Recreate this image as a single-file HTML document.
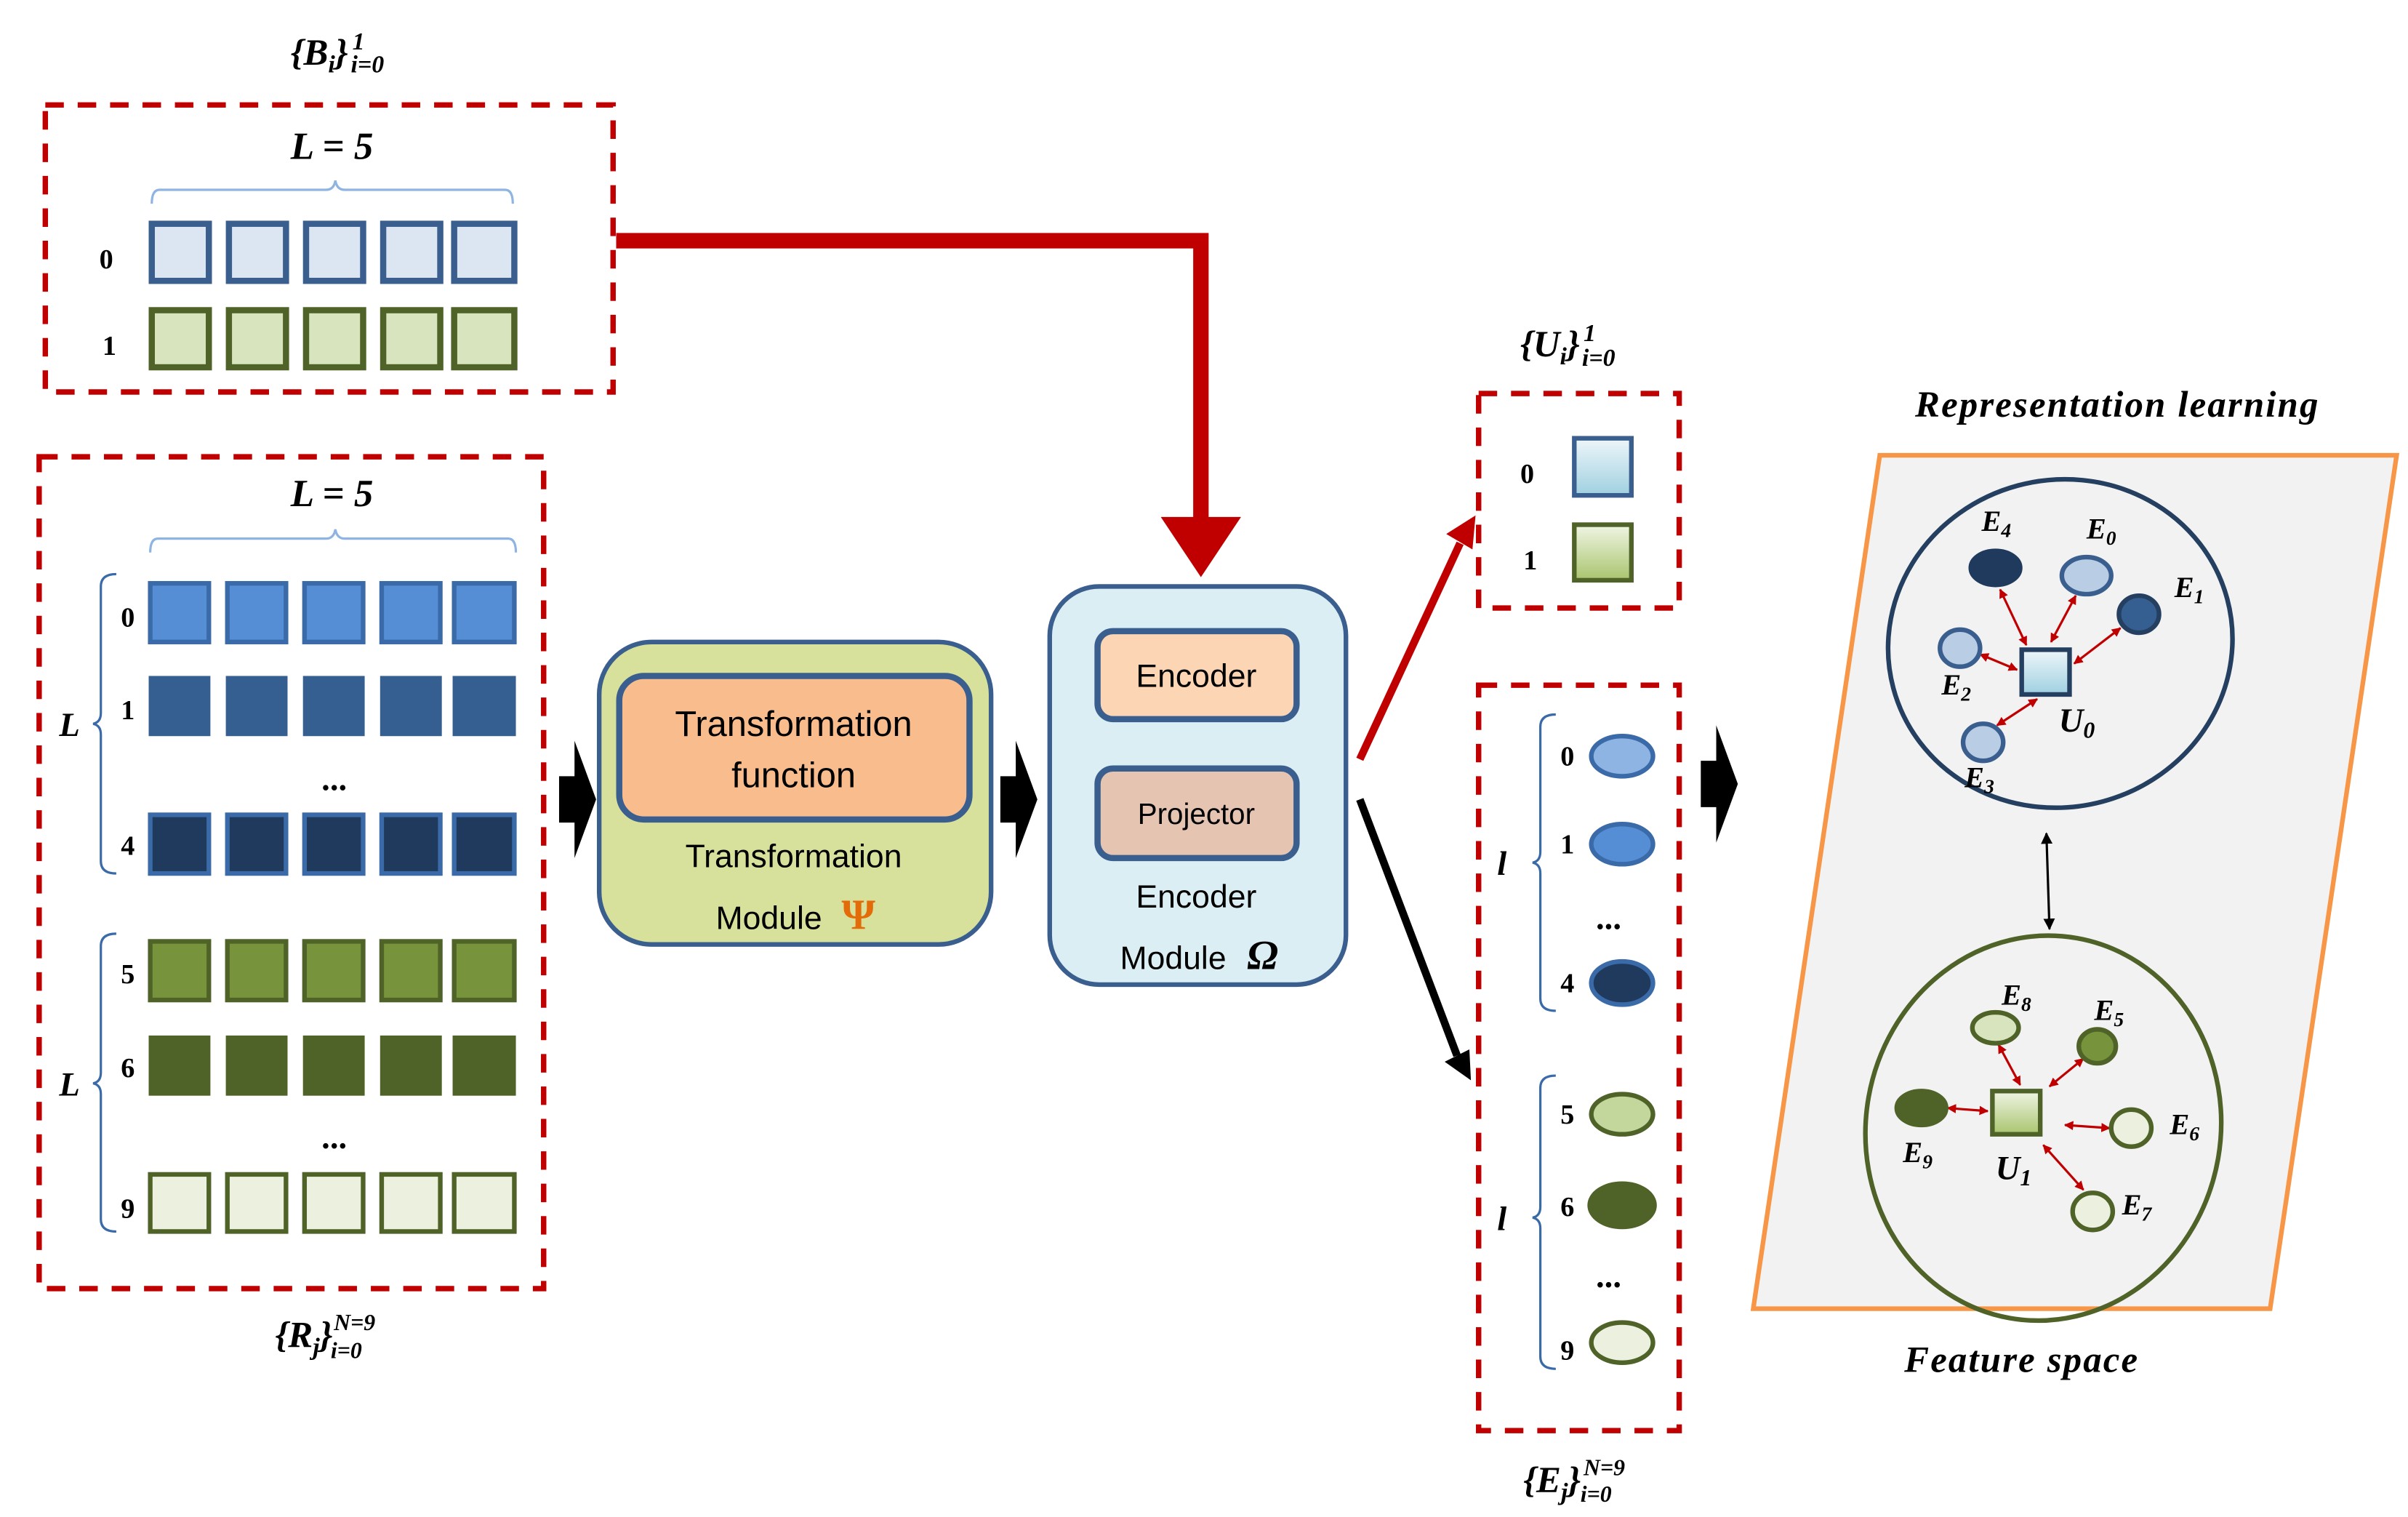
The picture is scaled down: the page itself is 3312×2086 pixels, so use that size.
<!DOCTYPE html>
<html><head><meta charset="utf-8"><style>
html,body{margin:0;padding:0;background:#fff;}
svg{display:block;}
.m{font-family:"Liberation Serif",serif;font-style:italic;font-weight:bold;fill:#000;}
.n{font-family:"Liberation Serif",serif;font-weight:bold;fill:#000;}
.s{font-family:"Liberation Sans",sans-serif;fill:#000;}
</style></head><body>
<svg width="3312" height="2086" viewBox="0 0 1560 983" xmlns="http://www.w3.org/2000/svg">
<defs>
<marker id="ra" viewBox="0 0 10 10" refX="9" refY="5" markerWidth="4" markerHeight="4" orient="auto-start-reverse"><path d="M0,0L10,5L0,10z" fill="#c00000"/></marker>
<marker id="ka" viewBox="0 0 10 10" refX="9" refY="5" markerWidth="5" markerHeight="5" orient="auto-start-reverse"><path d="M0,0L10,5L0,10z" fill="#000"/></marker>
<linearGradient id="gb" x1="0" y1="0" x2="0" y2="1"><stop offset="0" stop-color="#eef6fa"/><stop offset="1" stop-color="#9fd0e0"/></linearGradient>
<linearGradient id="gg" x1="0" y1="0" x2="0" y2="1"><stop offset="0" stop-color="#f0f5e4"/><stop offset="1" stop-color="#a9c46e"/></linearGradient>
</defs>

<text x="188" y="42" class="m" font-size="24">{B<tspan font-size="16" dy="5">i</tspan><tspan dy="-5">}</tspan></text>
<text x="228" y="32" class="m" font-size="16">1</text>
<text x="227" y="47" class="m" font-size="16">i=0</text>

<rect x="29" y="68" width="368" height="186" fill="none" stroke="#c00000" stroke-width="3.5" stroke-dasharray="12,9"/>
<text x="188" y="103" class="m" font-size="25">L = 5</text>
<path d="M98,132 q0,-9 5,-9 H211 q5,0 6,-6 q1,6 6,6 H327 q5,0 5,9" fill="none" stroke="#8eb4e3" stroke-width="1.5"/>
<g stroke="#3a5f8f" stroke-width="4" fill="#dce6f2">
<rect x="98" y="145" width="37" height="37"/><rect x="148" y="145" width="37" height="37"/><rect x="198" y="145" width="37" height="37"/><rect x="248" y="145" width="37" height="37"/><rect x="294" y="145" width="39" height="37"/>
</g>
<g stroke="#4f6228" stroke-width="4" fill="#d7e4bd">
<rect x="98" y="201" width="37" height="37"/><rect x="148" y="201" width="37" height="37"/><rect x="198" y="201" width="37" height="37"/><rect x="248" y="201" width="37" height="37"/><rect x="294" y="201" width="39" height="37"/>
</g>
<text x="64" y="174" class="n" font-size="18">0</text>
<text x="66" y="230" class="n" font-size="18">1</text>

<path d="M399,156 H778 V338" fill="none" stroke="#c00000" stroke-width="10"/>
<path d="M752,335 H804 L778,374 Z" fill="#c00000"/>

<rect x="25" y="296" width="327" height="539" fill="none" stroke="#c00000" stroke-width="3.5" stroke-dasharray="12,9"/>
<text x="188" y="328" class="m" font-size="25">L = 5</text>
<path d="M97,358 q0,-9 5,-9 H211 q5,0 6,-6 q1,6 6,6 H329 q5,0 5,9" fill="none" stroke="#8eb4e3" stroke-width="1.5"/>
<g stroke="#3a6aa8" stroke-width="3" fill="#558ed5">
<rect x="97" y="378" width="38" height="38"/><rect x="147" y="378" width="38" height="38"/><rect x="197" y="378" width="38" height="38"/><rect x="247" y="378" width="38" height="38"/><rect x="294" y="378" width="39" height="38"/>
</g>
<g fill="#365f91">
<rect x="96" y="438" width="40" height="39"/><rect x="146" y="438" width="40" height="39"/><rect x="196" y="438" width="40" height="39"/><rect x="246" y="438" width="40" height="39"/><rect x="293" y="438" width="41" height="39"/>
</g>
<text x="208" y="512" class="n" font-size="22">...</text>
<g stroke="#3a6aa8" stroke-width="3" fill="#1f3a5c">
<rect x="97" y="528" width="38" height="38"/><rect x="147" y="528" width="38" height="38"/><rect x="197" y="528" width="38" height="38"/><rect x="247" y="528" width="38" height="38"/><rect x="294" y="528" width="39" height="38"/>
</g>
<g stroke="#4f6228" stroke-width="3" fill="#77933c">
<rect x="97" y="610" width="38" height="38"/><rect x="147" y="610" width="38" height="38"/><rect x="197" y="610" width="38" height="38"/><rect x="247" y="610" width="38" height="38"/><rect x="294" y="610" width="39" height="38"/>
</g>
<g fill="#4f6228">
<rect x="96" y="671" width="40" height="39"/><rect x="146" y="671" width="40" height="39"/><rect x="196" y="671" width="40" height="39"/><rect x="246" y="671" width="40" height="39"/><rect x="293" y="671" width="41" height="39"/>
</g>
<text x="208" y="744" class="n" font-size="22">...</text>
<g stroke="#4f6228" stroke-width="3" fill="#ebf1de">
<rect x="97" y="761" width="38" height="37"/><rect x="147" y="761" width="38" height="37"/><rect x="197" y="761" width="38" height="37"/><rect x="247" y="761" width="38" height="37"/><rect x="294" y="761" width="39" height="37"/>
</g>
<g class="n" font-size="18">
<text x="78" y="406">0</text><text x="78" y="466">1</text><text x="78" y="554">4</text>
<text x="78" y="637">5</text><text x="78" y="698">6</text><text x="78" y="789">9</text>
</g>
<path d="M75,372 q-10,0 -10,8 V462 q0,6 -5,7 q5,1 5,7 V558 q0,8 10,8" fill="none" stroke="#3a6aa8" stroke-width="1.5"/>
<path d="M75,605 q-10,0 -10,8 V695 q0,6 -5,7 q5,1 5,7 V790 q0,8 10,8" fill="none" stroke="#3a6aa8" stroke-width="1.5"/>
<text x="38" y="477" class="m" font-size="22">L</text>
<text x="38" y="710" class="m" font-size="22">L</text>
<text x="178" y="873" class="m" font-size="24">{R<tspan font-size="16" dy="5">j</tspan><tspan dy="-5">}</tspan></text>
<text x="216" y="862" class="m" font-size="15">N=9</text>
<text x="214" y="880" class="m" font-size="15">i=0</text>

<path d="M362,503 H372 V480 L386,518 L372,556 V533 H362 Z" fill="#000"/>
<path d="M648,503 H658 V480 L672,518 L658,556 V533 H648 Z" fill="#000"/>
<path d="M1102,493 H1112 V470 L1126,508 L1112,546 V523 H1102 Z" fill="#000"/>

<rect x="388" y="416" width="254" height="196" rx="34" fill="#d7e19b" stroke="#3a5f8f" stroke-width="3"/>
<rect x="401" y="438" width="227" height="93" rx="16" fill="#f9bc8d" stroke="#3a5f8f" stroke-width="4"/>
<text x="514" y="477" class="s" font-size="23" text-anchor="middle">Transformation</text>
<text x="514" y="510" class="s" font-size="23" text-anchor="middle">function</text>
<text x="514" y="562" class="s" font-size="21" text-anchor="middle">Transformation</text>
<text x="498" y="602" class="s" font-size="21" text-anchor="middle">Module</text>
<text x="556" y="602" font-family="Liberation Serif,serif" font-weight="bold" font-size="28" fill="#e36c09" text-anchor="middle">Ψ</text>

<rect x="680" y="380" width="192" height="258" rx="32" fill="#dbeef4" stroke="#3a5f8f" stroke-width="3"/>
<rect x="711" y="409" width="129" height="57" rx="10" fill="#fcd5b4" stroke="#3a5f8f" stroke-width="4"/>
<rect x="711" y="498" width="129" height="58" rx="10" fill="#e6c4b2" stroke="#3a5f8f" stroke-width="4"/>
<text x="775" y="445" class="s" font-size="21" text-anchor="middle">Encoder</text>
<text x="775" y="534" class="s" font-size="19" text-anchor="middle">Projector</text>
<text x="775" y="588" class="s" font-size="21" text-anchor="middle">Encoder</text>
<text x="760" y="628" class="s" font-size="21" text-anchor="middle">Module</text>
<text x="818" y="628" class="m" font-size="27" fill="#c0504d" text-anchor="middle">Ω</text>

<line x1="881" y1="492" x2="946" y2="352" stroke="#c00000" stroke-width="5"/>
<path d="M937,346 L956,334 L954,356 Z" fill="#c00000"/>
<line x1="881" y1="518" x2="944" y2="684" stroke="#000" stroke-width="5"/>
<path d="M936,688 L953,700 L952,680 Z" fill="#000"/>

<text x="985" y="231" class="m" font-size="24">{U<tspan font-size="16" dy="5">i</tspan><tspan dy="-5">}</tspan></text>
<text x="1026" y="221" class="m" font-size="16">1</text>
<text x="1025" y="237" class="m" font-size="16">i=0</text>
<rect x="958" y="255" width="130" height="139" fill="none" stroke="#c00000" stroke-width="3.5" stroke-dasharray="12,9"/>
<rect x="1020" y="284" width="37" height="37" fill="url(#gb)" stroke="#3a5f8f" stroke-width="3"/>
<rect x="1020" y="340" width="37" height="36" fill="url(#gg)" stroke="#4f6228" stroke-width="3"/>
<text x="985" y="313" class="n" font-size="18">0</text>
<text x="987" y="369" class="n" font-size="18">1</text>

<rect x="958" y="444" width="130" height="483" fill="none" stroke="#c00000" stroke-width="3.5" stroke-dasharray="12,9"/>
<path d="M1008,463 q-10,0 -10,8 V552 q0,6 -5,7 q5,1 5,7 V647 q0,8 10,8" fill="none" stroke="#3a6aa8" stroke-width="1.5"/>
<path d="M1008,697 q-10,0 -10,8 V782 q0,6 -5,7 q5,1 5,7 V879 q0,8 10,8" fill="none" stroke="#3a6aa8" stroke-width="1.5"/>
<text x="970" y="567" class="m" font-size="22">l</text>
<text x="970" y="797" class="m" font-size="22">l</text>
<g stroke-width="3">
<ellipse cx="1051" cy="490" rx="20" ry="13" fill="#8eb4e3" stroke="#3a6aa8"/>
<ellipse cx="1051" cy="547" rx="20" ry="13" fill="#558ed5" stroke="#3a6aa8"/>
<ellipse cx="1051" cy="637" rx="20" ry="14" fill="#1f3a5c" stroke="#3a6aa8"/>
<ellipse cx="1051" cy="722" rx="20" ry="13" fill="#c3d69b" stroke="#4f6228"/>
<ellipse cx="1051" cy="781" rx="21" ry="14" fill="#4f6228" stroke="#4f6228"/>
<ellipse cx="1051" cy="870" rx="20" ry="13" fill="#ebf1de" stroke="#4f6228"/>
</g>
<g class="n" font-size="18">
<text x="1011" y="496">0</text><text x="1011" y="553">1</text><text x="1011" y="643">4</text>
<text x="1011" y="728">5</text><text x="1011" y="788">6</text><text x="1011" y="881">9</text>
</g>
<text x="1034" y="602" class="n" font-size="22">...</text>
<text x="1034" y="834" class="n" font-size="22">...</text>
<text x="987" y="967" class="m" font-size="24">{E<tspan font-size="16" dy="5">j</tspan><tspan dy="-5">}</tspan></text>
<text x="1026" y="956" class="m" font-size="15">N=9</text>
<text x="1024" y="973" class="m" font-size="15">i=0</text>

<text x="1372" y="270" class="m" font-size="24" text-anchor="middle" letter-spacing="1">Representation learning</text>
<path d="M1218,295 H1553 L1471,848 H1136 Z" fill="#f2f2f2" stroke="#f79646" stroke-width="3"/>
<ellipse cx="1335" cy="417" rx="112" ry="106" transform="rotate(-15 1335 417)" fill="none" stroke="#243f60" stroke-width="3"/>
<ellipse cx="1324" cy="731" rx="115" ry="125" transform="rotate(10 1324 731)" fill="none" stroke="#4f6228" stroke-width="3"/>
<line x1="1326" y1="540" x2="1328" y2="602" stroke="#000" stroke-width="1.5" marker-start="url(#ka)" marker-end="url(#ka)"/>

<g stroke="#c00000" stroke-width="1.5" marker-start="url(#ra)" marker-end="url(#ra)">
<line x1="1296" y1="382" x2="1313" y2="418"/>
<line x1="1345" y1="386" x2="1329" y2="416"/>
<line x1="1374" y1="407" x2="1344" y2="430"/>
<line x1="1283" y1="424" x2="1307" y2="434"/>
<line x1="1294" y1="470" x2="1320" y2="453"/>
<line x1="1295" y1="677" x2="1309" y2="703"/>
<line x1="1350" y1="686" x2="1328" y2="704"/>
<line x1="1262" y1="718" x2="1288" y2="720"/>
<line x1="1367" y1="731" x2="1338" y2="729"/>
<line x1="1350" y1="771" x2="1324" y2="742"/>
</g>

<g stroke-width="3">
<ellipse cx="1293" cy="368" rx="16" ry="11" fill="#1f3a5c" stroke="#1f3a5c"/>
<ellipse cx="1352" cy="373" rx="16" ry="12" fill="#b9cde5" stroke="#3a5f8f"/>
<ellipse cx="1386" cy="398" rx="13" ry="12" fill="#365f91" stroke="#243f60"/>
<ellipse cx="1270" cy="420" rx="13" ry="12" fill="#b9cde5" stroke="#3a5f8f"/>
<ellipse cx="1285" cy="481" rx="13" ry="12" fill="#b9cde5" stroke="#3a5f8f"/>
<rect x="1310" y="421" width="31" height="29" fill="url(#gb)" stroke="#243f60"/>
<ellipse cx="1293" cy="666" rx="15" ry="10" fill="#d7e4bd" stroke="#4f6228"/>
<ellipse cx="1359" cy="678" rx="12" ry="11" fill="#77933c" stroke="#4f6228"/>
<ellipse cx="1245" cy="718" rx="16" ry="11" fill="#4f6228" stroke="#4f6228"/>
<ellipse cx="1381" cy="731" rx="13" ry="12" fill="#ebf1de" stroke="#4f6228"/>
<ellipse cx="1356" cy="785" rx="13" ry="12" fill="#ebf1de" stroke="#4f6228"/>
<rect x="1291" y="707" width="31" height="28" fill="url(#gg)" stroke="#4f6228"/>
</g>

<g class="m" font-size="19">
<text x="1284" y="344">E<tspan font-size="13" dy="4">4</tspan></text>
<text x="1352" y="349">E<tspan font-size="13" dy="4">0</tspan></text>
<text x="1409" y="387">E<tspan font-size="13" dy="4">1</tspan></text>
<text x="1258" y="450">E<tspan font-size="13" dy="4">2</tspan></text>
<text x="1273" y="510">E<tspan font-size="13" dy="4">3</tspan></text>
<text x="1334" y="474" font-size="22">U<tspan font-size="15" dy="4">0</tspan></text>
<text x="1297" y="651">E<tspan font-size="13" dy="4">8</tspan></text>
<text x="1357" y="661">E<tspan font-size="13" dy="4">5</tspan></text>
<text x="1233" y="753">E<tspan font-size="13" dy="4">9</tspan></text>
<text x="1406" y="735">E<tspan font-size="13" dy="4">6</tspan></text>
<text x="1375" y="787">E<tspan font-size="13" dy="4">7</tspan></text>
<text x="1293" y="764" font-size="22">U<tspan font-size="15" dy="4">1</tspan></text>
</g>
<text x="1310" y="889" class="m" font-size="24" text-anchor="middle" letter-spacing="1">Feature space</text>
</svg>
</body></html>
